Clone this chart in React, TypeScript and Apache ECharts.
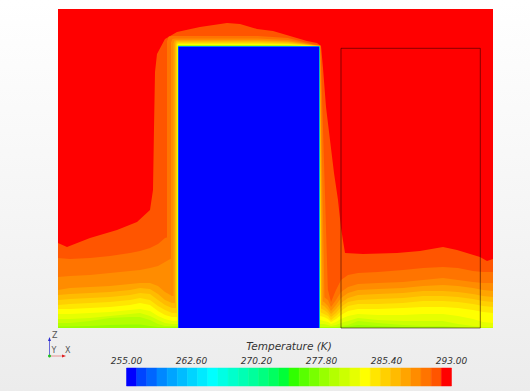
import React, { useEffect, useRef } from "react";
import * as echarts from "echarts";

// Domain of the section, in cm (width x height)
const DOMAIN_W = 435;
const DOMAIN_H = 319;

// Colour scale: 32 bands from 255 K to 293 K
const T_MIN = 255;
const T_MAX = 293;
const TICK_STEP = 7.6;
const BAND_COLORS = [
  "#0000ff", "#0044ff", "#0066ff", "#0088ff", "#00a4ff", "#00bcff", "#00d4ff", "#00eaff",
  "#00ffff", "#00ffe4", "#00ffcc", "#00ffb4", "#00ff9c", "#00ff80", "#00ff60", "#00ff38",
  "#30ff00", "#58ff00", "#78ff00", "#98ff00", "#b4ff00", "#ccff00", "#e6ff00", "#ffff00",
  "#ffe600", "#ffd000", "#ffbb00", "#ffa400", "#ff8c00", "#ff7400", "#ff5500", "#ff0000",
];

// Cold block (cm)
const BLOCK_LEFT = 120.3;
const BLOCK_RIGHT = 261.3;
const BLOCK_TOP = 281.6;

// Outlined box (cm): x0, x1, z0, z1
const BOX = [283, 422.3, 0, 279.7];

// Band 30 region (everything cooler than the top red band)
const BAND30_OUTLINE: number[][] = [
  [0, 0], [0, 85], [9, 81], [32, 90], [59, 98], [79, 106], [92, 118], [95, 138], [96, 200],
  [97, 256], [99, 274], [107, 289], [119, 296], [142, 301], [169, 305], [182, 304], [199, 299],
  [215, 297], [232, 292], [249, 287], [259, 285], [263, 282], [265, 260], [268, 221], [272, 188],
  [276, 155], [280, 128], [283, 100], [287, 75], [305, 74], [339, 75], [362, 77], [385, 81],
  [399, 78], [422, 71], [429, 67], [435, 69], [435, 0],
];

// Thermal halo around the block, per band
const HALO_BINS = [29, 28, 27, 26, 25, 24, 23, 22, 21, 20, 18, 16, 14, 12, 10, 8];
const HALO_LEFT = [109, 113, 115.5, 117, 118, 118.8, 119.3, 119.6, 119.8, 119.9, 120.0, 120.05, 120.1, 120.15, 120.2, 120.25];
const HALO_TOP = [292, 289.5, 288, 287, 286, 285, 284, 283.2, 282.8, 282.5, 282.3, 282.1, 282.0, 281.9, 281.8, 281.7];
const HALO_RIGHT_TOP = [262.5, 262, 261.9, 261.8, 261.7, 261.65, 261.6, 261.55, 261.5, 261.5, 261.45, 261.42, 261.4, 261.38, 261.36, 261.34];
const HALO_RIGHT_BOTTOM = [271, 267, 265, 263.5, 263, 262.6, 262.3, 262, 261.9, 261.8, 261.7, 261.6, 261.55, 261.5, 261.45, 261.4];
const HALO_TOP_X = [150, 200, 230, 245, 255];
const HALO_TOP_SHAPE = [1, 1, 0.8, 0.45, 0.2];

// Stratified bands near the floor (isoline heights in cm)
const STRATA_BINS = [29, 28, 27, 26, 25, 24, 23, 22, 21, 20, 19];
const LEFT_X = [0, 12, 32, 52, 72, 82, 92, 100, 107, 114, 120.3];
const LEFT_ISOLINES = [
  [70, 69, 70, 72, 75, 77, 80, 84, 90, 92, 92],
  [51, 52, 53, 55, 57, 58, 60, 62, 66, 70, 70],
  [38, 40, 41, 42, 44, 45, 45, 42, 36, 32, 32],
  [33, 34, 35, 36, 38, 40, 39, 34, 28, 25, 25],
  [28, 29, 30, 31, 33, 35, 34, 28, 23, 20, 20],
  [23, 24, 25, 26, 28, 30, 28, 22, 18, 15, 15],
  [19, 19, 20, 21, 23, 25, 23, 17, 13, 11, 11],
  [14, 14, 15, 16, 18, 19, 17, 12, 9, 7, 7],
  [9, 9, 10, 12, 14, 15, 12, 8, 5, 4, 4],
  [5, 5, 7, 10, 11, 11, 8, 4, 2, 2, 2],
  [1.5, 1.5, 2, 3, 3.5, 3.5, 2, 1, 0.8, 0.8, 0.8],
];
const RIGHT_X = [262, 266, 270, 273, 278, 283, 290, 300, 320, 345, 365, 385, 400, 415, 425, 435];
const RIGHT_ISOLINES = [
  [43, 40, 38, 26, 38, 48, 53, 55, 56, 58, 60, 61, 60, 57, 56, 56],
  [31, 31, 28, 21, 28, 36, 41, 44, 45, 46, 48, 50, 48, 46, 45, 45],
  [28, 26, 22, 17, 23, 30, 35, 38, 39, 40, 42, 43, 42, 40, 38, 37],
  [24, 22, 18, 14, 19, 25, 30, 33, 34, 35, 37, 37, 36, 34, 32, 31],
  [20, 18, 15, 11, 15, 21, 26, 28, 29, 30, 32, 32, 31, 29, 27, 26],
  [16, 14, 12, 8, 12, 17, 22, 24, 24, 25, 27, 27, 26, 24, 22, 21],
  [12, 11, 9, 6, 9, 13, 17, 19, 19, 20, 21, 21, 20, 18, 16, 15],
  [8, 7, 6, 4, 6, 9, 12, 14, 13, 13, 14, 14, 12, 9, 6, 5],
  [4, 4, 3, 2, 3, 5, 7, 10, 8, 7, 7, 7, 4, 2, 1, 1],
  [1, 1, 1, 1, 1, 2, 3, 7, 5, 3, 2, 2, 1, 0, 0, 0],
  [0.5, 0.5, 0.5, 0.5, 0.5, 1, 1.5, 3, 2, 1, 0.5, 0.5, 0, 0, 0, 0],
];

type Shape = { pts: number[][]; color: string };

function haloPolygon(j: number): number[][] {
  const L = HALO_LEFT[j];
  const T = HALO_TOP[j];
  const h = T - BLOCK_TOP;
  const c = h * 0.5;
  const pts: number[][] = [[L, 0], [L, T - c], [L + c * 0.35, T - c * 0.12], [L + c, T]];
  HALO_TOP_X.forEach((x, i) => pts.push([x, BLOCK_TOP + h * HALO_TOP_SHAPE[i]]));
  pts.push([HALO_RIGHT_TOP[j], BLOCK_TOP + h * 0.08]);
  pts.push([HALO_RIGHT_BOTTOM[j], 0]);
  return pts;
}

function buildShapes(): Shape[] {
  const shapes: Shape[] = [];
  shapes.push({ pts: [[0, 0], [0, DOMAIN_H], [DOMAIN_W, DOMAIN_H], [DOMAIN_W, 0]], color: BAND_COLORS[31] });
  shapes.push({ pts: BAND30_OUTLINE, color: BAND_COLORS[30] });
  for (let bin = 29; bin >= 1; bin--) {
    const h = HALO_BINS.indexOf(bin);
    if (h >= 0) shapes.push({ pts: haloPolygon(h), color: BAND_COLORS[bin] });
    const s = STRATA_BINS.indexOf(bin);
    if (s >= 0) {
      const left: number[][] = [[LEFT_X[0], 0]];
      LEFT_X.forEach((x, i) => left.push([x, LEFT_ISOLINES[s][i]]));
      left.push([LEFT_X[LEFT_X.length - 1], 0]);
      shapes.push({ pts: left, color: BAND_COLORS[bin] });
      const right: number[][] = [[RIGHT_X[0], 0]];
      RIGHT_X.forEach((x, i) => right.push([x, RIGHT_ISOLINES[s][i]]));
      right.push([RIGHT_X[RIGHT_X.length - 1], 0]);
      shapes.push({ pts: right, color: BAND_COLORS[bin] });
    }
  }
  shapes.push({
    pts: [[BLOCK_LEFT, 0], [BLOCK_LEFT, BLOCK_TOP], [BLOCK_RIGHT, BLOCK_TOP], [BLOCK_RIGHT, 0]],
    color: BAND_COLORS[0],
  });
  return shapes;
}

export default function App() {
  const ref = useRef<HTMLDivElement>(null);
  useEffect(() => {
    if (!ref.current) return;
    const chart = echarts.init(ref.current, null, { renderer: "svg" });
    const shapes = buildShapes();
    const span = T_MAX - T_MIN;
    const nb = BAND_COLORS.length;
    const barData = BAND_COLORS.map((_, k) => [(k * span) / nb, ((k + 1) * span) / nb, k]);
    const font = '"DejaVu Sans", sans-serif';
    chart.setOption({
      animation: false,
      backgroundColor: "transparent",
      grid: [
        { left: 58, top: 9, width: 435, height: 319 },
        { left: 126.5, top: 368, width: 325, height: 18 },
      ],
      xAxis: [
        { gridIndex: 0, type: "value", min: 0, max: DOMAIN_W, show: false },
        {
          gridIndex: 1,
          type: "value",
          min: 0,
          max: span,
          interval: TICK_STEP,
          position: "top",
          axisLine: { show: false },
          axisTick: { show: false },
          splitLine: { show: false },
          axisLabel: {
            show: true,
            margin: 3,
            fontSize: 9,
            fontStyle: "italic",
            fontFamily: font,
            color: "#333",
            showMinLabel: true,
            showMaxLabel: true,
            formatter: (v: number) => (T_MIN + v).toFixed(2),
          },
          name: "Temperature (K)",
          nameLocation: "middle",
          nameGap: 17,
          nameTextStyle: { fontSize: 10.5, fontStyle: "italic", fontFamily: font, color: "#333" },
        },
      ],
      yAxis: [
        { gridIndex: 0, type: "value", min: 0, max: DOMAIN_H, show: false },
        { gridIndex: 1, type: "value", min: 0, max: 1, show: false },
      ],
      series: [
        {
          type: "custom",
          xAxisIndex: 0,
          yAxisIndex: 0,
          silent: true,
          data: shapes.map((s, i) => [s.pts[0][0], s.pts[0][1], i]),
          renderItem: (params: any, api: any) => {
            const s = shapes[params.dataIndex];
            return {
              type: "polygon",
              shape: { points: s.pts.map((p) => api.coord(p)) },
              style: { fill: s.color },
            };
          },
        },
        {
          type: "custom",
          xAxisIndex: 0,
          yAxisIndex: 0,
          silent: true,
          data: [[BOX[0], BOX[2]]],
          renderItem: (_params: any, api: any) => {
            const pts = [
              [BOX[0], BOX[2]], [BOX[0], BOX[3]], [BOX[1], BOX[3]], [BOX[1], BOX[2]], [BOX[0], BOX[2]],
            ].map((p) => api.coord(p));
            return {
              type: "polyline",
              shape: { points: pts },
              style: { stroke: "rgba(40,0,0,0.55)", lineWidth: 1, fill: null },
            };
          },
        },
        {
          type: "custom",
          xAxisIndex: 1,
          yAxisIndex: 1,
          silent: true,
          data: barData,
          renderItem: (_params: any, api: any) => {
            const a = api.coord([api.value(0), 0]);
            const b = api.coord([api.value(1), 1]);
            const col = BAND_COLORS[api.value(2)];
            return {
              type: "rect",
              shape: { x: a[0], y: b[1], width: b[0] - a[0], height: a[1] - b[1] },
              style: { fill: col, stroke: col, lineWidth: 0.5 },
            };
          },
        },
      ],
      graphic: [
        { type: "line", shape: { x1: 49.5, y1: 339, x2: 49.5, y2: 356 }, style: { stroke: "#6a6ad8", lineWidth: 1 } },
        { type: "polygon", shape: { points: [[49.5, 337], [48, 341], [51, 341]] }, style: { fill: "#2a2ad0" } },
        { type: "line", shape: { x1: 49.5, y1: 356, x2: 64, y2: 356 }, style: { stroke: "#e89090", lineWidth: 1 } },
        { type: "polygon", shape: { points: [[66, 356], [62, 354.5], [62, 357.5]] }, style: { fill: "#e02020" } },
        { type: "circle", shape: { cx: 49.5, cy: 356, r: 1.5 }, style: { fill: "#20c020" } },
        { type: "text", x: 52, y: 335, style: { text: "Z", fontSize: 8, fontFamily: font, fill: "#555", textVerticalAlign: "middle" } },
        { type: "text", x: 51.5, y: 350, style: { text: "Y", fontSize: 8, fontFamily: font, fill: "#555", textVerticalAlign: "middle" } },
        { type: "text", x: 65, y: 350, style: { text: "X", fontSize: 8, fontFamily: font, fill: "#555", textVerticalAlign: "middle" } },
      ],
    });
    return () => chart.dispose();
  }, []);
  return (
    <div
      style={{
        position: "absolute",
        left: 0,
        top: 0,
        width: 530,
        height: 391,
        background: "linear-gradient(#ffffff 0%, #f6f6f6 50%, #ececec 100%)",
      }}
    >
      <div ref={ref} style={{ width: 530, height: 391 }} />
    </div>
  );
}
